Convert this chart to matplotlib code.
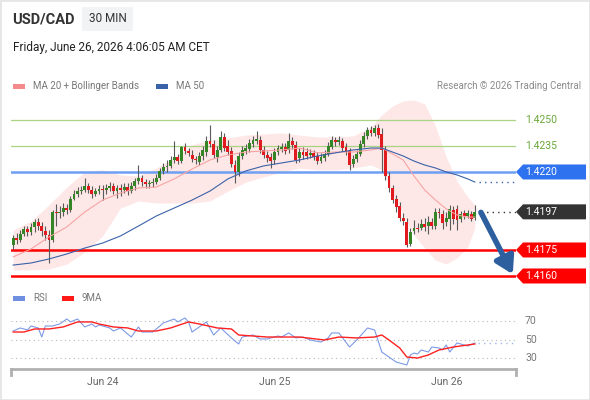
import matplotlib
matplotlib.use('Agg')
import matplotlib.pyplot as plt
import matplotlib.transforms as mtransforms
from matplotlib.patches import Polygon, Rectangle
import numpy as np
import pandas as pd

plt.rcParams['font.family'] = ['Roboto', 'DejaVu Sans']

FIG_W = 590
FIG_H = 400

# 30 min candles, USD/CAD
opens = [
    1.41779, 1.41819, 1.41808, 1.41842, 1.41871, 1.41854, 1.41883, 1.41912, 1.41888, 1.41860,
    1.41836, 1.41808, 1.41969, 1.41963, 1.41969, 1.41992, 1.41981, 1.42044, 1.42073, 1.42090,
    1.42096, 1.42119, 1.42096, 1.42073, 1.42090, 1.42102, 1.42096, 1.42108, 1.42119, 1.42090,
    1.42108, 1.42096, 1.42113, 1.42090, 1.42119, 1.42148, 1.42165, 1.42142, 1.42131, 1.42137,
    1.42142, 1.42165, 1.42206, 1.42229, 1.42235, 1.42269, 1.42287, 1.42263, 1.42344, 1.42321,
    1.42298, 1.42275, 1.42258, 1.42292, 1.42315, 1.42379, 1.42362, 1.42287, 1.42327, 1.42402,
    1.42350, 1.42321, 1.42240, 1.42200, 1.42292, 1.42321, 1.42333, 1.42362, 1.42379, 1.42385,
    1.42327, 1.42298, 1.42287, 1.42269, 1.42315, 1.42333, 1.42344, 1.42327, 1.42379, 1.42356,
    1.42281, 1.42315, 1.42315, 1.42298, 1.42310, 1.42292, 1.42263, 1.42281, 1.42304, 1.42344,
    1.42385, 1.42373, 1.42379, 1.42344, 1.42321, 1.42246, 1.42275, 1.42304, 1.42362, 1.42408,
    1.42442, 1.42425, 1.42454, 1.42419, 1.42327, 1.42177, 1.42108, 1.42044, 1.42004, 1.41935,
    1.41912, 1.41785, 1.41860, 1.41877, 1.41877, 1.41900, 1.41888, 1.41912, 1.41888, 1.41969,
    1.41958, 1.41912, 1.41929, 1.41981, 1.41987, 1.41929, 1.41963, 1.41946, 1.41958, 1.41935,
]
highs = [
    1.41836, 1.41848, 1.41865, 1.41888, 1.41888, 1.41906, 1.41929, 1.41935, 1.41912, 1.41888,
    1.41865, 1.41981, 1.42015, 1.42004, 1.42021, 1.42015, 1.42062, 1.42096, 1.42113, 1.42119,
    1.42165, 1.42137, 1.42119, 1.42108, 1.42125, 1.42125, 1.42131, 1.42142, 1.42137, 1.42125,
    1.42131, 1.42137, 1.42137, 1.42142, 1.42165, 1.42240, 1.42183, 1.42160, 1.42154, 1.42165,
    1.42188, 1.42223, 1.42252, 1.42269, 1.42292, 1.42379, 1.42304, 1.42350, 1.42367, 1.42338,
    1.42327, 1.42292, 1.42315, 1.42350, 1.42408, 1.42471, 1.42385, 1.42350, 1.42437, 1.42425,
    1.42385, 1.42344, 1.42269, 1.42315, 1.42350, 1.42362, 1.42390, 1.42408, 1.42437, 1.42408,
    1.42350, 1.42321, 1.42310, 1.42338, 1.42356, 1.42367, 1.42367, 1.42425, 1.42402, 1.42379,
    1.42338, 1.42344, 1.42338, 1.42333, 1.42327, 1.42315, 1.42310, 1.42327, 1.42373, 1.42408,
    1.42402, 1.42408, 1.42396, 1.42367, 1.42338, 1.42298, 1.42327, 1.42385, 1.42431, 1.42460,
    1.42465, 1.42471, 1.42477, 1.42454, 1.42350, 1.42200, 1.42125, 1.42067, 1.42027, 1.41963,
    1.41935, 1.41877, 1.41923, 1.41906, 1.41929, 1.41935, 1.41946, 1.41935, 1.41992, 1.41992,
    1.41981, 1.41969, 1.42010, 1.42004, 1.42010, 1.41975, 1.41981, 1.41981, 1.41975, 1.42010,
]
lows = [
    1.41756, 1.41785, 1.41796, 1.41831, 1.41831, 1.41836, 1.41854, 1.41865, 1.41831, 1.41808,
    1.41675, 1.41796, 1.41888, 1.41935, 1.41946, 1.41958, 1.41969, 1.42038, 1.42056, 1.42073,
    1.42085, 1.42079, 1.42050, 1.42062, 1.42073, 1.42038, 1.42073, 1.42090, 1.42073, 1.42050,
    1.42062, 1.42079, 1.42067, 1.42079, 1.42096, 1.42131, 1.42119, 1.42108, 1.42108, 1.42113,
    1.42131, 1.42154, 1.42188, 1.42200, 1.42223, 1.42252, 1.42246, 1.42252, 1.42304, 1.42292,
    1.42258, 1.42246, 1.42240, 1.42269, 1.42292, 1.42344, 1.42281, 1.42258, 1.42315, 1.42321,
    1.42298, 1.42229, 1.42137, 1.42177, 1.42275, 1.42304, 1.42315, 1.42344, 1.42362, 1.42310,
    1.42281, 1.42258, 1.42223, 1.42246, 1.42298, 1.42315, 1.42304, 1.42310, 1.42333, 1.42252,
    1.42258, 1.42275, 1.42275, 1.42281, 1.42269, 1.42246, 1.42252, 1.42263, 1.42292, 1.42333,
    1.42350, 1.42356, 1.42321, 1.42298, 1.42212, 1.42229, 1.42258, 1.42292, 1.42344, 1.42390,
    1.42408, 1.42408, 1.42396, 1.42200, 1.42154, 1.42085, 1.42021, 1.41969, 1.41917, 1.41894,
    1.41767, 1.41773, 1.41842, 1.41854, 1.41865, 1.41860, 1.41842, 1.41871, 1.41871, 1.41935,
    1.41871, 1.41888, 1.41865, 1.41900, 1.41865, 1.41912, 1.41929, 1.41935, 1.41917, 1.41923,
]
closes = [
    1.41819, 1.41808, 1.41842, 1.41871, 1.41854, 1.41883, 1.41912, 1.41888, 1.41860, 1.41836,
    1.41808, 1.41969, 1.41963, 1.41969, 1.41992, 1.41981, 1.42044, 1.42073, 1.42090, 1.42096,
    1.42119, 1.42096, 1.42073, 1.42090, 1.42102, 1.42096, 1.42108, 1.42119, 1.42090, 1.42108,
    1.42096, 1.42113, 1.42090, 1.42119, 1.42148, 1.42165, 1.42142, 1.42131, 1.42137, 1.42142,
    1.42165, 1.42206, 1.42229, 1.42235, 1.42269, 1.42287, 1.42263, 1.42344, 1.42321, 1.42310,
    1.42275, 1.42269, 1.42292, 1.42327, 1.42379, 1.42362, 1.42298, 1.42327, 1.42402, 1.42338,
    1.42315, 1.42246, 1.42200, 1.42292, 1.42327, 1.42338, 1.42367, 1.42385, 1.42390, 1.42327,
    1.42298, 1.42281, 1.42263, 1.42315, 1.42338, 1.42344, 1.42321, 1.42379, 1.42356, 1.42269,
    1.42315, 1.42298, 1.42292, 1.42310, 1.42287, 1.42263, 1.42287, 1.42304, 1.42350, 1.42385,
    1.42373, 1.42385, 1.42338, 1.42315, 1.42240, 1.42275, 1.42304, 1.42362, 1.42408, 1.42442,
    1.42425, 1.42454, 1.42413, 1.42327, 1.42177, 1.42108, 1.42038, 1.41998, 1.41935, 1.41917,
    1.41779, 1.41854, 1.41877, 1.41871, 1.41900, 1.41883, 1.41912, 1.41888, 1.41969, 1.41963,
    1.41906, 1.41935, 1.41987, 1.41929, 1.41923, 1.41958, 1.41946, 1.41963, 1.41929, 1.41970,
]

# moving averages and bands, read at these bars
band_bars = [0, 5, 10, 15, 20, 25, 30, 35, 40, 45, 50, 55, 60, 65, 70, 75, 80, 85, 90, 95,
             100, 103, 106, 109, 112, 115, 118, 121, 124, 127, 129]
bb_upper = [1.41865, 1.41917, 1.42010, 1.42113, 1.42200, 1.42212, 1.42183, 1.42177, 1.42223, 1.42281,
            1.42356, 1.42385, 1.42396, 1.42413, 1.42419, 1.42425, 1.42413, 1.42402, 1.42402, 1.42408,
            1.42460, 1.42529, 1.42581, 1.42610, 1.42615, 1.42592, 1.42465, 1.42287, 1.42148, 1.42056, 1.42010]
bb_lower = [1.41635, 1.41635, 1.41640, 1.41669, 1.41738, 1.41831, 1.41992, 1.42033, 1.42021, 1.42021,
            1.42021, 1.42033, 1.42090, 1.42142, 1.42171, 1.42200, 1.42223, 1.42212, 1.42212, 1.42223,
            1.42240, 1.42212, 1.42079, 1.41952, 1.41836, 1.41761, 1.41692, 1.41669, 1.41704, 1.41767, 1.41877]
ma20 = [1.41710, 1.41756, 1.41825, 1.41883, 1.41969, 1.42038, 1.42079, 1.42108, 1.42113, 1.42160,
        1.42217, 1.42269, 1.42298, 1.42315, 1.42321, 1.42327, 1.42338, 1.42310, 1.42315, 1.42315,
        1.42327, 1.42338, 1.42304, 1.42269, 1.42177, 1.42096, 1.42038, 1.41987, 1.41952, 1.41940, 1.41940]
ma50 = [1.41663, 1.41675, 1.41698, 1.41727, 1.41761, 1.41790, 1.41831, 1.41888, 1.41946, 1.41992,
        1.42038, 1.42090, 1.42160, 1.42206, 1.42235, 1.42252, 1.42269, 1.42292, 1.42310, 1.42327,
        1.42338, 1.42338, 1.42315, 1.42292, 1.42263, 1.42240, 1.42223, 1.42200, 1.42183, 1.42160, 1.42142]

rsi_bars = [0, 2, 4, 5, 7, 8, 9, 11, 13, 15, 16, 18, 20, 22, 23, 24, 27, 28, 30, 33,
            35, 36, 39, 42, 45, 46, 48, 49, 50, 52, 54, 56, 58, 61, 63, 64, 67, 69, 71, 74,
            75, 77, 79, 81, 83, 86, 88, 89, 91, 94, 96, 98, 99, 101, 103, 105, 107, 110, 111, 112,
            113, 114, 116, 117, 119, 120, 121, 122, 124, 126, 127, 129]
rsi = [59.7, 63.0, 60.8, 65.1, 63.0, 53.2, 65.1, 65.1, 67.3, 72.7, 69.5, 72.7, 64.1, 67.3, 64.1, 66.2, 63.0, 59.7, 63.0, 53.2,
       64.1, 58.6, 58.6, 68.4, 72.7, 69.5, 73.8, 69.5, 58.6, 64.1, 69.5, 55.4, 63.0, 52.2, 45.7, 53.2, 55.4, 51.1, 51.1, 54.3,
       53.2, 57.6, 52.2, 53.2, 50.0, 47.8, 52.2, 57.6, 57.6, 42.4, 50.0, 58.6, 63.0, 60.8, 37.0, 31.6, 26.2, 23.0, 33.8, 35.9,
       34.9, 39.2, 37.0, 42.4, 41.4, 39.2, 44.6, 37.0, 46.8, 44.6, 43.5, 46.8]
ma9_bars = [0, 3, 6, 10, 14, 18, 22, 24, 28, 32, 35, 40, 44, 49, 52, 57, 61, 63, 67, 71,
            75, 80, 87, 91, 96, 101, 103, 105, 108, 110, 113, 116, 119, 123, 127, 129]
rsi_ma9 = [58.6, 58.6, 61.9, 61.9, 64.1, 69.5, 69.5, 67.3, 64.1, 63.0, 59.7, 59.7, 63.0, 69.5, 67.3, 63.0, 61.9, 55.4, 54.3, 53.2,
           53.2, 53.2, 50.0, 53.2, 52.2, 53.2, 55.4, 50.0, 41.4, 31.6, 30.5, 33.8, 39.2, 42.4, 44.6, 45.7]
rsi_levels = [70, 50, 30]

resistances = [1.4250, 1.4235]
pivot = 1.4220
supports = [1.4175, 1.4160]
target = 1.4160

GREEN = '#338526'
RED = '#e01a1f'
WICK = '#5a5a5a'
BAND = '#fee7e7'
MA20_COLOR = '#f7a0a0'
MA50_COLOR = '#3a62a8'

bar_times = pd.date_range('2026-06-23 11:30', periods=len(closes), freq='30min')
bar_index = np.arange(len(closes))
day_ticks = [i for i, t in enumerate(bar_times) if t.hour == 0 and t.minute == 0]
day_labels = [bar_times[i].strftime('%b %d') for i in day_ticks]
last = bar_index[-1]

X_MIN, X_MAX = -0.6, 140.5
Y_LO, Y_HI = 1.41548, 1.42644


def fig_box(left, top, right, bottom):
    return [left / FIG_W, 1 - bottom / FIG_H, (right - left) / FIG_W, (bottom - top) / FIG_H]


fig = plt.figure(figsize=(FIG_W / 100, FIG_H / 100), dpi=100)
fig.patches.append(Rectangle((0, 0), 1, 1, transform=fig.transFigure, fill=False,
                             edgecolor='#e6e6e6', lw=2))

# ---- price panel
ax = fig.add_axes(fig_box(11, 95, 516, 285))
ax.set_xlim(X_MIN, X_MAX)
ax.set_ylim(Y_LO, Y_HI)
ax.axis('off')

ax.fill_between(band_bars, bb_lower, bb_upper, color=BAND, lw=0, zorder=1)

for lvl in resistances:
    ax.axhline(lvl, color='#a9d483', lw=0.9, zorder=2)
ax.axhline(pivot, color='#6e9ff2', lw=1.8, zorder=2)
for lvl in supports:
    ax.axhline(lvl, color='#ff0000', lw=1.8, zorder=2)

o = np.array(opens)
c = np.array(closes)
candle_colors = [GREEN if cl >= op else RED for op, cl in zip(o, c)]
ax.vlines(bar_index, lows, highs, color=WICK, lw=0.8, zorder=3)
ax.bar(bar_index, np.maximum(np.abs(c - o), 0.00003), bottom=np.minimum(o, c),
       width=0.8, color=candle_colors, lw=0, zorder=4)

ax.plot(band_bars, ma20, color=MA20_COLOR, lw=0.75, zorder=5)
ax.plot(band_bars, ma50, color=MA50_COLOR, lw=0.8, zorder=5)
ax.plot([last + 1.3, X_MAX], [ma50[-1], ma50[-1]], color=MA50_COLOR, lw=1, ls=(0, (1, 3)), zorder=5)
ax.plot([last + 1.6, X_MAX], [closes[-1], closes[-1]], color='#333333', lw=1, ls=(0, (1, 3)), zorder=5)

ax.annotate('', xy=(last + 10.6, target + 0.00010), xytext=(last + 1.7, closes[-1] - 0.00003),
            arrowprops=dict(arrowstyle='-|>,head_width=0.6,head_length=1.0', color='#2d5e9e',
                            lw=4, shrinkA=0, shrinkB=0, mutation_scale=10), zorder=6)

tag_tr = mtransforms.blended_transform_factory(fig.transFigure, ax.transData)
half = 7.5 * (Y_HI - Y_LO) / 190


def price_tag(price, face):
    x0, x1, x2 = 516 / FIG_W, 523 / FIG_W, 586 / FIG_W
    verts = [(x0, price), (x1, price + half), (x2, price + half), (x2, price - half), (x1, price - half)]
    ax.add_patch(Polygon(verts, closed=True, transform=tag_tr, facecolor=face,
                         edgecolor='none', clip_on=False, zorder=7))
    ax.text(525 / FIG_W, price, f'{price:.4f}', transform=tag_tr, color='white',
            fontsize=7.5, va='center', ha='left', zorder=8)


for lvl in resistances:
    ax.text(525 / FIG_W, lvl, f'{lvl:.4f}', transform=tag_tr, color='#6aa83a',
            fontsize=7.5, va='center', ha='left')
price_tag(pivot, '#2f72ef')
price_tag(float(f'{closes[-1]:.4f}'), '#333333')
for lvl in supports:
    price_tag(lvl, '#ff0000')

# ---- RSI panel
rax = fig.add_axes(fig_box(11, 305, 516, 369))
rax.set_xlim(X_MIN, X_MAX)
rax.set_ylim(18.65, 87.8)
rsi_tr = mtransforms.blended_transform_factory(fig.transFigure, rax.transData)
for v in rsi_levels:
    rax.axhline(v, color='#b8b8b8', lw=0.8, ls=(0, (1, 3)), zorder=1)
    rax.text(525 / FIG_W, v, str(v), transform=rsi_tr, color='#777777', fontsize=7.5,
             va='center', ha='left')
rax.plot(rsi_bars, rsi, color='#7d9ae6', lw=0.8, zorder=3)
rax.plot([last + 1, X_MAX], [rsi[-1], rsi[-1]], color='#9fb5ee', lw=1, ls=(0, (1, 3)), zorder=3)
rax.plot(ma9_bars, rsi_ma9, color='#ff2020', lw=1.0, zorder=4)

for side in ['top', 'left', 'right']:
    rax.spines[side].set_visible(False)
rax.spines['bottom'].set_color('#b0b0b0')
rax.spines['bottom'].set_linewidth(2)
rax.set_yticks([])
rax.set_xticks(day_ticks, day_labels)
rax.tick_params(axis='x', length=0, pad=6, labelsize=7.5, labelcolor='#666666')
for xa in [0, 1]:
    rax.plot([xa, xa], [0, -0.09], transform=rax.transAxes, color='#b0b0b0', lw=2, clip_on=False)

# ---- header and legends
fig.text(12 / FIG_W, 1 - 19 / FIG_H, 'USD/CAD', fontsize=10.5, weight='bold', color='#333333', va='center')
fig.patches.append(Rectangle((82 / FIG_W, 1 - 31 / FIG_H), 51 / FIG_W, 24 / FIG_H,
                             transform=fig.transFigure, facecolor='#f1f3f5', edgecolor='none'))
fig.text(107.5 / FIG_W, 1 - 19 / FIG_H, '30 MIN', fontsize=8.5, color='#333333', va='center', ha='center')
fig.text(13 / FIG_W, 1 - 48 / FIG_H, 'Friday, June 26, 2026 4:06:05 AM CET', fontsize=8.5,
         color='#222222', va='center')


def legend_item(x, y, color, label):
    fig.patches.append(Rectangle((x / FIG_W, 1 - (y + 2.5) / FIG_H), 12 / FIG_W, 5 / FIG_H,
                                 transform=fig.transFigure, facecolor=color, edgecolor='none'))
    fig.text((x + 20) / FIG_W, 1 - y / FIG_H, label, fontsize=7, color='#777777', va='center')


legend_item(13, 86, '#f58a8a', 'MA 20 + Bollinger Bands')
legend_item(156, 86, MA50_COLOR, 'MA 50')
fig.text(581 / FIG_W, 1 - 86 / FIG_H, 'Research \u00a9 2026 Trading Central', fontsize=7,
         color='#8a8a8a', va='center', ha='right')
legend_item(13, 298, '#6f8fe0', 'RSI')
legend_item(62, 298, '#ff1a1a', '9MA')

fig.savefig('out.png', dpi=100)
